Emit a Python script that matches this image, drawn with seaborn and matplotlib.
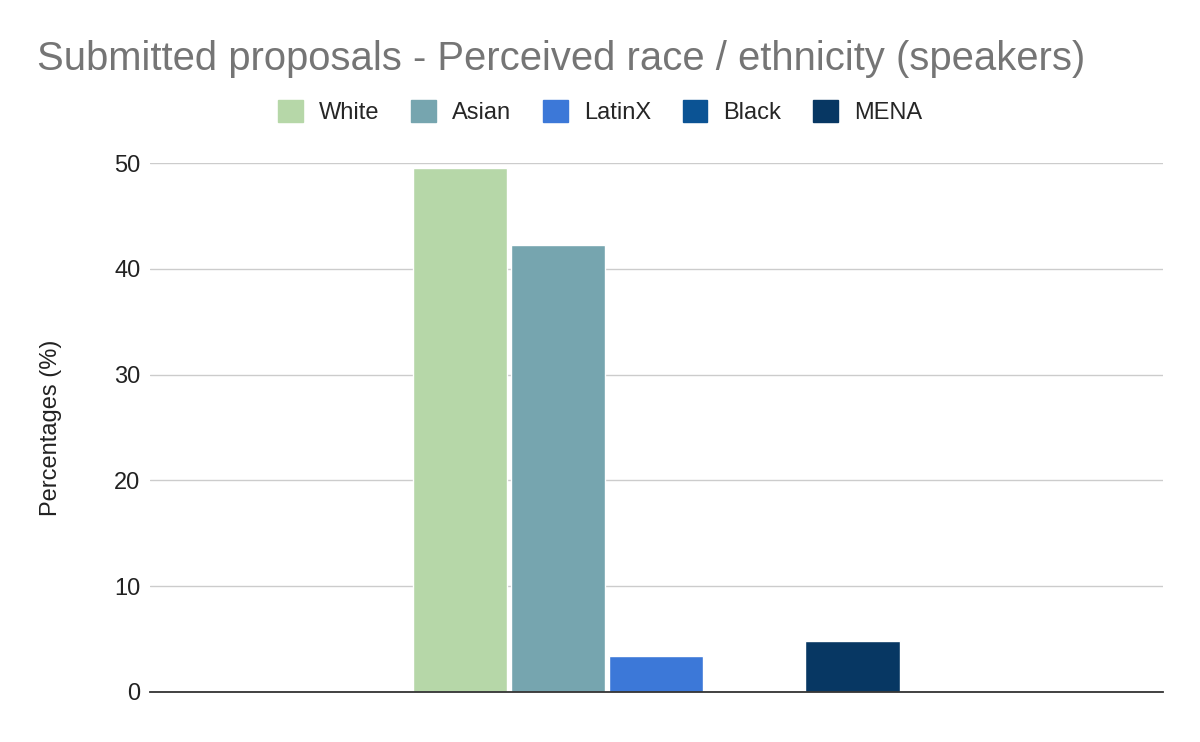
import pandas as pd
import numpy as np
import matplotlib.pyplot as plt
import seaborn as sns

# --- data ---
groups = ['White', 'Asian', 'LatinX', 'Black', 'MENA']
percentages = [49.5, 42.3, 3.4, 0.0, 4.8]
colors = ['#b6d7a8', '#76a5af', '#3c78d8', '#0b5394', '#073763']
yticks = [0, 10, 20, 30, 40, 50]

df = pd.DataFrame({'Category': [''] * len(groups),
                   'Group': groups,
                   'Percentage': percentages})

sns.set_theme(style='white')
plt.rcParams['font.family'] = ['Liberation Sans', 'DejaVu Sans']

fig = plt.figure(figsize=(12, 7.42), dpi=100)
ax = fig.add_axes([0.125, 0.0674, 0.844, 0.7128])

sns.barplot(data=df, x='Category', y='Percentage', hue='Group',
            hue_order=groups, palette=colors, width=0.484, gap=0.04,
            saturation=1, ax=ax, legend=False)

ax.set_ylim(0, 50)
ax.set_xlim(-0.5, 0.5)
ax.set_yticks(yticks)
ax.set_yticklabels([str(t) for t in yticks], fontsize=17, color='#222222')
ax.tick_params(axis='y', length=0, pad=7)
ax.tick_params(axis='x', length=0, labelbottom=False)
ax.set_xlabel('')
ax.set_ylabel('Percentages (%)', fontsize=17, color='#222222')
ax.yaxis.set_label_coords(-0.087, 0.5)
ax.grid(axis='y', color='#cccccc', linewidth=1)
ax.set_axisbelow(True)
for s in ['top', 'right', 'left']:
    ax.spines[s].set_visible(False)
ax.spines['bottom'].set_color('#333333')
ax.spines['bottom'].set_linewidth(1.3)
ax.spines['bottom'].set_zorder(5)

# title and legend
fig.text(0.031, 0.92, 'Submitted proposals - Perceived race / ethnicity (speakers)',
         fontsize=28.8, color='#757575', va='center', ha='left')
handles = [plt.Rectangle((0, 0), 1, 1, color=c) for c in colors]
fig.legend(handles, groups, loc='center', bbox_to_anchor=(0.5, 0.849), ncol=5,
           frameon=False, fontsize=17, handlelength=1.05, handleheight=1.05,
           columnspacing=1.35, handletextpad=0.68)

plt.savefig('out.png', dpi=100)
